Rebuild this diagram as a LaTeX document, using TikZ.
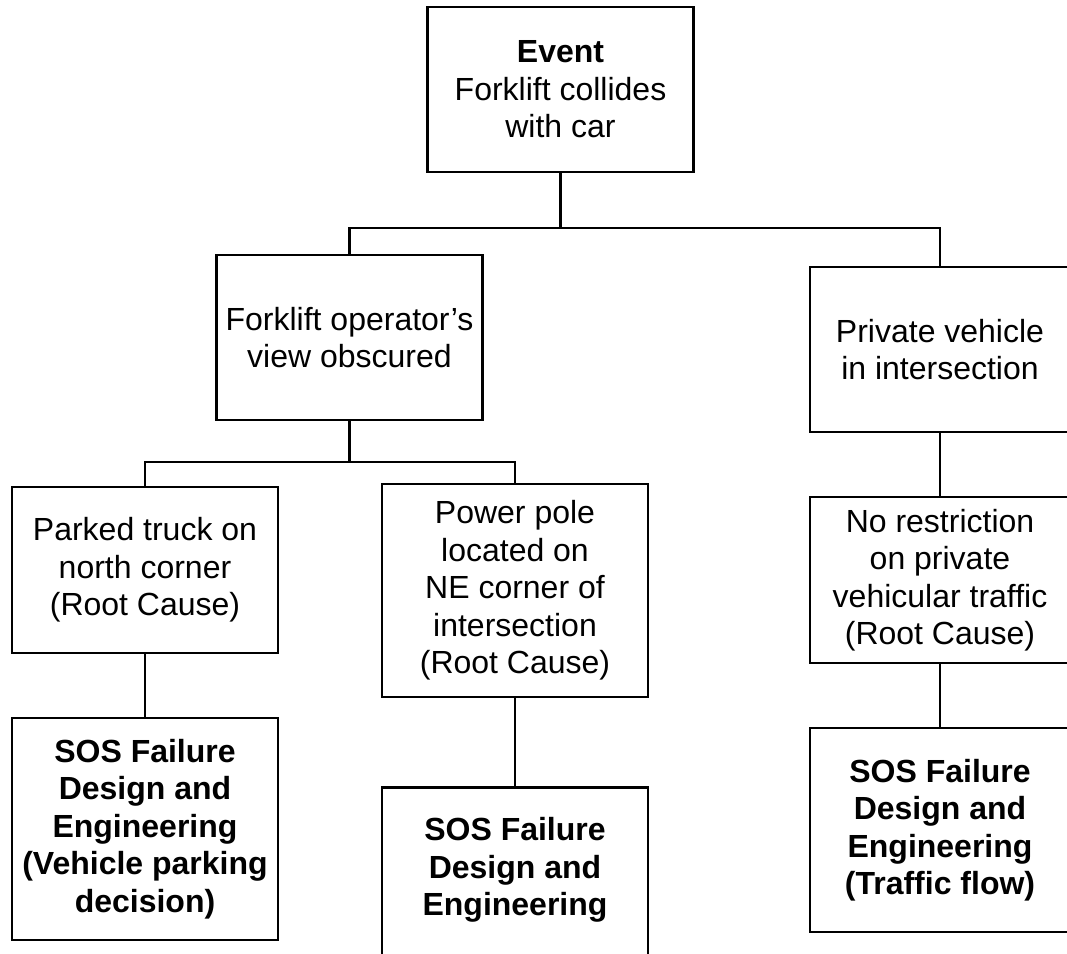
\documentclass[tikz,border=0pt]{standalone}
\usepackage{fontspec}
\setmainfont{Liberation Sans}

\begin{document}
\begin{tikzpicture}[x=1pt,y=-1pt,
    box/.style={draw,line width=2.8pt,inner sep=0pt,align=center,minimum width=266pt,
      font=\fontsize{32pt}{37.5pt}\selectfont},
    sos/.style={box,font=\fontsize{32pt}{37.5pt}\selectfont\bfseries},
    link/.style={line width=2.6pt}]

		\useasboundingbox (0,0) rectangle (1067,953);
		\clip (0,0) rectangle (1067,953);

		\node[box,minimum height=165pt] (ev) at (560.5, 89.5) {\textbf{Event}\\Forklift collides\\with car};

		\node[box,minimum height=165pt] (vw) at (349.5,337.5) {Forklift operator’s\\view obscured};
		\node[box,minimum width=260pt,minimum height=165pt] (pv) at (940,349.5) {Private vehicle\\in intersection};

		\node[box,minimum height=166pt] (tr) at (145,570) {Parked truck on\\north corner\\(Root Cause)};
		\node[box,minimum height=213pt] (po) at (515,590.5) {Power pole\\located on\\NE corner of\\intersection\\(Root Cause)};
		\node[box,minimum width=260pt,minimum height=166pt] (nr) at (940,580) {No restriction\\on private\\vehicular traffic\\(Root Cause)};

		\node[sos,minimum height=222pt] (f1) at (145,829) {SOS Failure\\Design and\\Engineering\\(Vehicle parking\\decision)};
		\node[sos,anchor=north,inner ysep=30pt,text depth=120pt] (f2) at (515,786) {SOS Failure\\Design and\\Engineering};
		\node[sos,minimum width=260pt,minimum height=204pt] (f3) at (940,830) {SOS Failure\\Design and\\Engineering\\(Traffic flow)};

		\coordinate (j1) at (560.5,228);
		\coordinate (j2) at (349.5,462);

		\draw[link] (ev) to (j1);
		\draw[link] (j1) -| (vw); \draw[link] (j1) -| (pv);

		\draw[link] (vw) to (j2);
		\draw[link] (j2) -| (tr); \draw[link] (j2) -| (po);

		\draw[link] (tr) to (f1);
		\draw[link] (po) to (f2);

		\draw[link] (pv) to (nr);
		\draw[link] (nr) to (f3);

	\end{tikzpicture}
\end{document}
